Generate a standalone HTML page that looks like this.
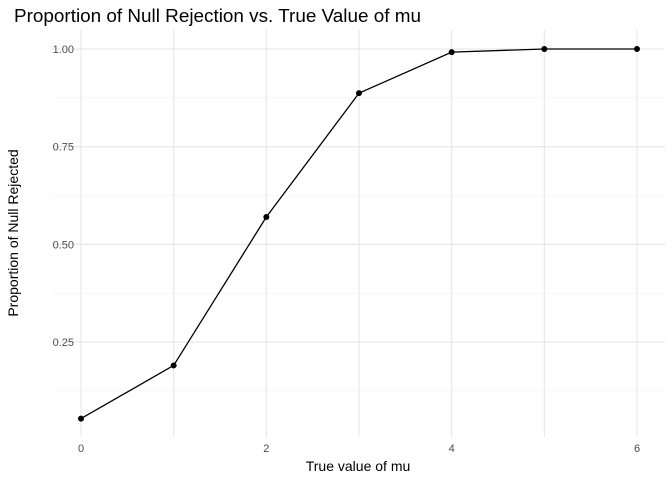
<!DOCTYPE html>
<html><head><meta charset="utf-8"><style>body{margin:0;background:#fff}svg{display:block;font-family:"Liberation Sans",sans-serif}</style></head>
<body>
<svg id="chart" width="672" height="480">
<rect width="672" height="480" fill="#fff"/>
<text x="14" y="22" font-size="18" textLength="407" lengthAdjust="spacingAndGlyphs" fill="#000">Proportion of Null Rejection vs. True Value of mu</text>
<g id="grid"></g><g id="axes"></g><g id="marks"></g>
<text x="358" y="471" font-size="14" text-anchor="middle">True value of mu</text>
<text transform="translate(18,233) rotate(-90)" font-size="14" text-anchor="middle">Proportion of Null Rejected</text>
</svg>
<script>
const mus=[0,1,2,3,4,5,6];
const props=[0.054,0.19,0.57,0.887,0.992,1.0,1.0];
const yTicks=[0.25,0.5,0.75,1.0];
const yTickLabels=["0.25","0.50","0.75","1.00"];
const xTicks=[0,2,4,6];
const ns="http://www.w3.org/2000/svg";
const L=52,R=665,T=30,B=437;
const x=v=>81+v*(637-81)/6;
const y=v=>49+(1-v)*(342-49)/0.75;
function mk(t,a,p){const e=document.createElementNS(ns,t);for(const k in a)e.setAttribute(k,a[k]);p.appendChild(e);return e;}
const g=document.getElementById('grid'),ax=document.getElementById('axes'),m=document.getElementById('marks');
for(let v=0.125;v<=1.01;v+=0.25){const l=mk('line',{x1:L,x2:R,y1:y(v),y2:y(v),stroke:'#f0f0f0','stroke-width':0.6},g);

}
for(let v=1;v<6;v+=2){const l=mk('line',{x1:x(v),x2:x(v),y1:T,y2:B,stroke:'#e6e6e6','stroke-width':1.1},g);

}
yTicks.forEach((v,i)=>{const l=mk('line',{x1:L,x2:R,y1:y(v),y2:y(v),stroke:'#e6e6e6','stroke-width':1.1},g);


const t=mk('text',{x:74,y:y(v)+4,'font-size':11,'text-anchor':'end',fill:'#4d4d4d'},ax);t.textContent=yTickLabels[i];

});
xTicks.forEach(v=>{const l=mk('line',{x1:x(v),x2:x(v),y1:T,y2:B,stroke:'#e6e6e6','stroke-width':1.1},g);


const t=mk('text',{x:x(v),y:452,'font-size':11,'text-anchor':'middle',fill:'#4d4d4d'},ax);t.textContent=String(v);

});
const pl=mk('polyline',{points:mus.map((v,i)=>x(v)+','+y(props[i])).join(' '),fill:'none',stroke:'#000','stroke-width':1.3},m);


mus.forEach((v,i)=>{const c=mk('circle',{cx:x(v),cy:y(props[i]),r:3,fill:'#000'},m);

});
</script>
</body></html>
